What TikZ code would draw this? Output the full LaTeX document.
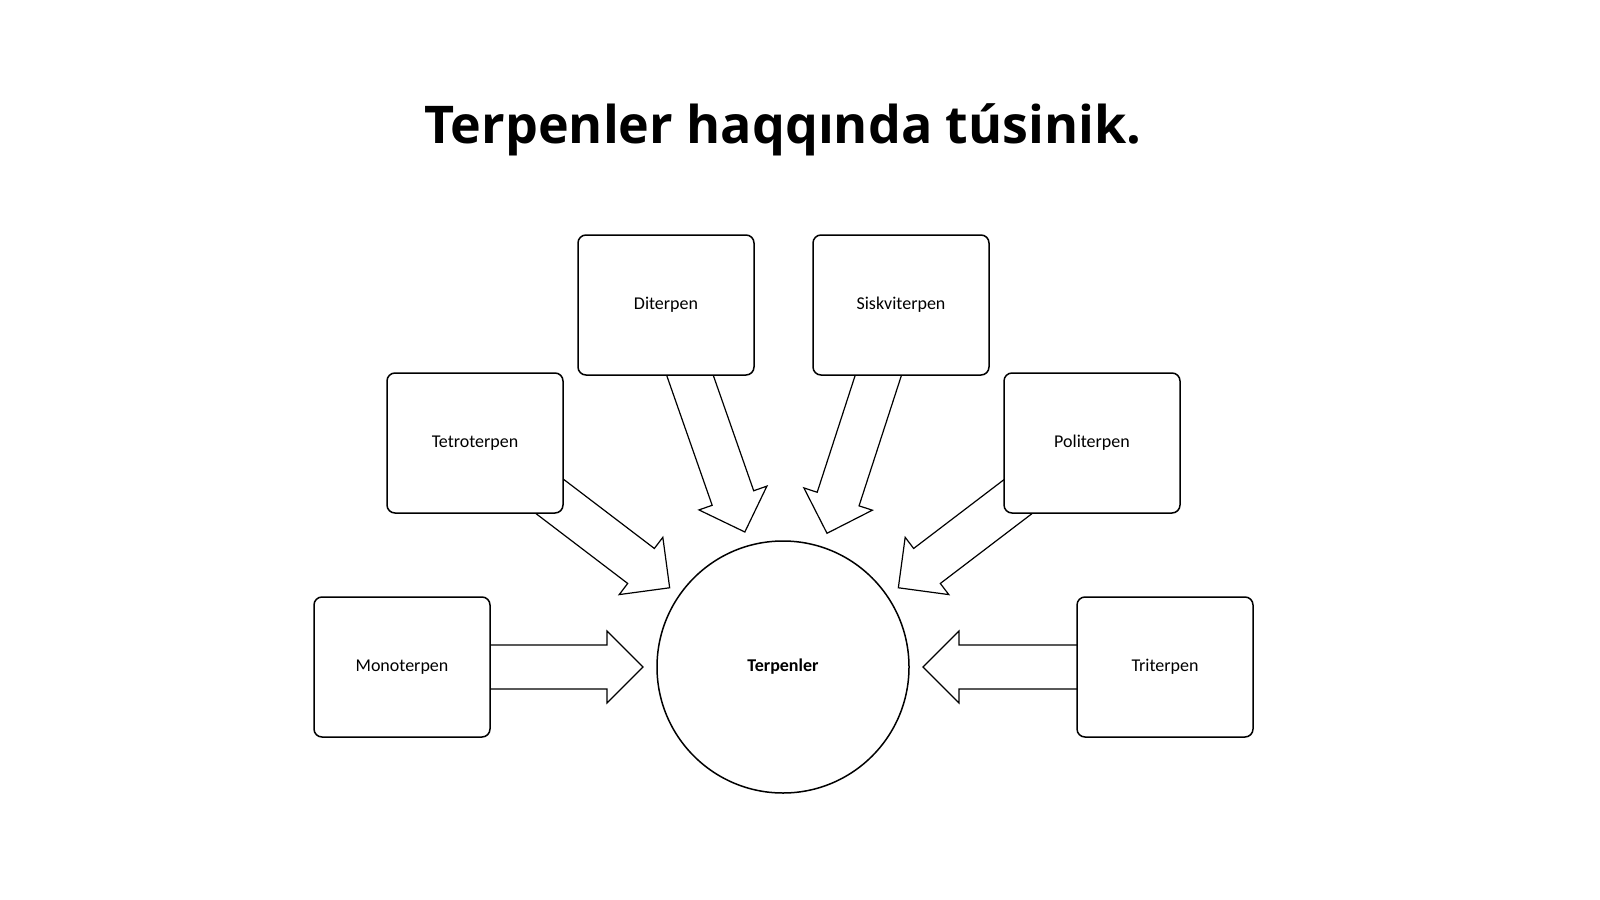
\documentclass[tikz,border=0pt]{standalone}
\usepackage{fontspec}
\setmainfont{Carlito}
\newfontfamily\titlefont{Open Sans}
\begin{document}
\begin{tikzpicture}[x=0.5pt,y=-0.5pt,
  box/.style={draw,line width=0.75pt,rounded corners=4pt,minimum width=88pt,minimum height=70pt,font=\fontsize{9}{10}\selectfont,fill=white},
  pics/barrow/.style={code={\draw[line width=0.6pt,line join=miter,fill=white] (0,-22) -- (#1-36,-22) -- (#1-36,-36) -- (#1,0) -- (#1-36,36) -- (#1-36,22) -- (0,22) -- cycle;}}]
\path[use as bounding box] (0,0) rectangle (1600,899);
\node[font=\titlefont\bfseries\fontsize{26}{30}\selectfont] (title) at (783,130) {Terpenler haqqında túsinik.};
\pic[rotate=-37.3] (a1) at (540,489) {barrow=163};
\pic[rotate=-70.7] (a2) at (686,364) {barrow=178};
\pic[rotate=-108] (a3) at (882,364) {barrow=178};
\pic[rotate=217.3] (a4) at (1028,489) {barrow=163};
\pic (a5) at (485,667) {barrow=158};
\pic[rotate=180] (a6) at (1083,667) {barrow=160};
\node[box] (di) at (666,305) {Diterpen};
\node[box] (si) at (901,305) {Siskviterpen};
\node[box] (te) at (475,443) {Tetroterpen};
\node[box] (po) at (1092,443) {Politerpen};
\node[box] (mo) at (402,667) {Monoterpen};
\node[box] (tr) at (1165,667) {Triterpen};
\node[draw,circle,line width=0.75pt,minimum size=126pt,font=\bfseries\fontsize{9}{10}\selectfont] (c) at (783,667) {Terpenler};
\end{tikzpicture}
\end{document}
